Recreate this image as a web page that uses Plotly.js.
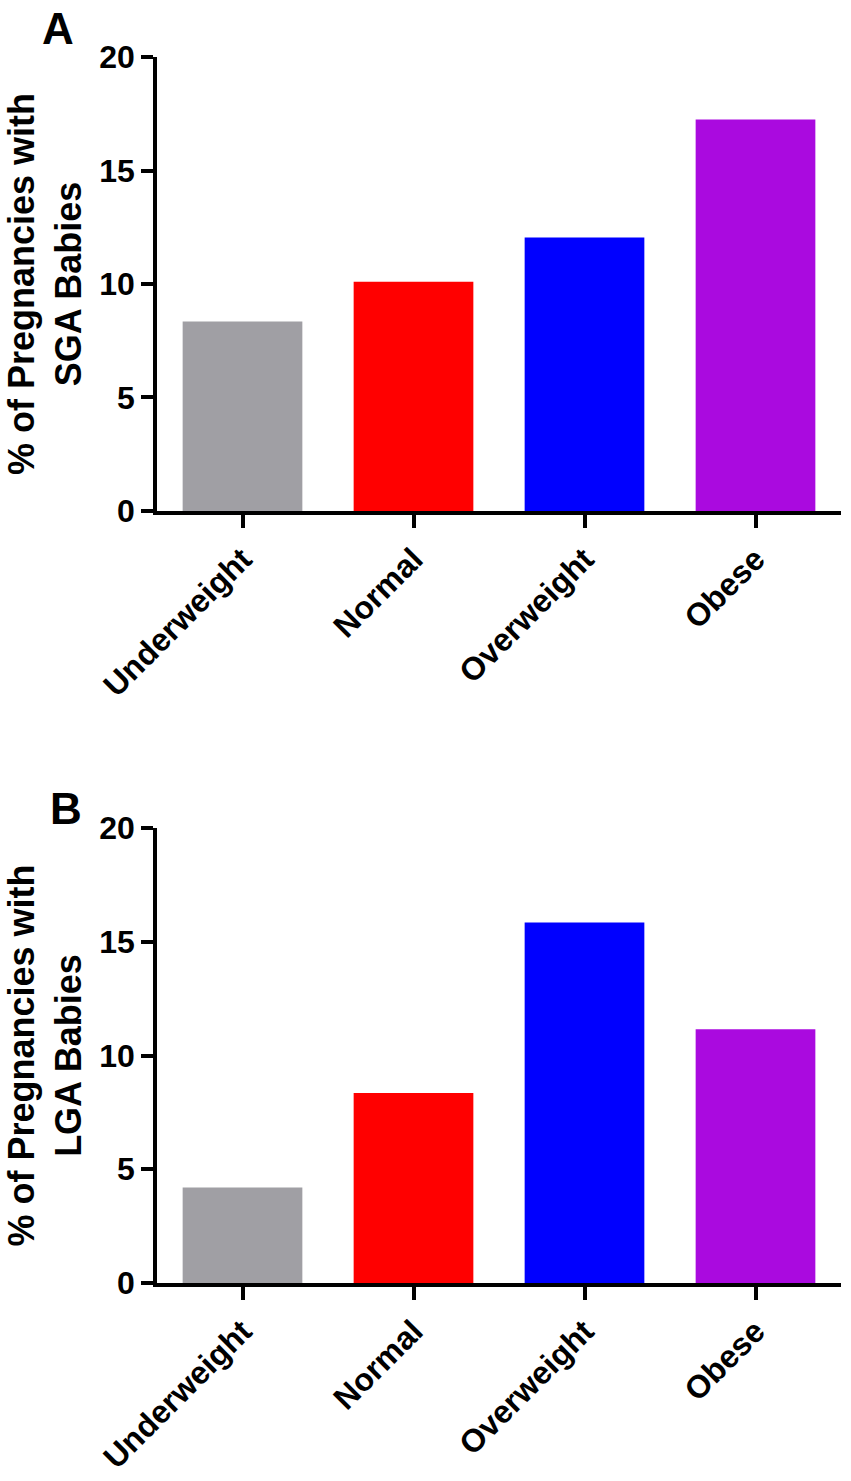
<!DOCTYPE html>
<html>
<head>
<meta charset="utf-8">
<script src="https://cdn.plot.ly/plotly-3.0.1.min.js"></script>
<style>
  html, body { margin: 0; padding: 0; background: #fff; }
  #chart { width: 851px; height: 1481px; }
</style>
</head>
<body>
<div id="chart"></div>
<script>
// categorias (IMC materno)
const categories = ['Underweight', 'Normal', 'Overweight', 'Obese'];
// % de gestações com bebês SGA / LGA
const sgaValues = [8.35, 10.1, 12.05, 17.25];
const lgaValues = [4.2, 8.35, 15.85, 11.15];
const barColors = ['#a09fa4', '#ff0000', '#0000ff', '#aa0adf'];
const yTicks = [0, 5, 10, 15, 20];

const fontFamily = 'Liberation Sans, Arial, sans-serif';

function bars(values, xa, ya) {
	return {
		type: 'bar',
		x: categories,
		y: values,
		xaxis: xa,
		yaxis: ya,
		marker: { color: barColors, line: { width: 0 } },
		width: 0.7,
		hoverinfo: 'x+y',
		showlegend: false
	};
}

function xAxis(anchor) {
	return {
		anchor: anchor,
		domain: [0, 1],
		type: 'category',
		range: [-0.5, 3.5],
		showline: true, linecolor: '#000', linewidth: 3.5,
		ticks: 'outside', ticklen: 13, tickwidth: 3.5, tickcolor: '#000',
		tickangle: -45,
		ticklabelstandoff: 0,
		tickfont: { family: fontFamily, size: 32, color: '#000', weight: 'bold' },
		showgrid: false, zeroline: false, fixedrange: true
	};
}

function yAxis(anchor, domain, title) {
	return {
		anchor: anchor,
		domain: domain,
		range: [0, 20],
		tickvals: yTicks,
		showline: true, linecolor: '#000', linewidth: 3.5,
		ticks: 'outside', ticklen: 12, tickwidth: 3.5, tickcolor: '#000',
		tickfont: { family: fontFamily, size: 32, color: '#000', weight: 'bold' },
		title: { text: title, font: { family: fontFamily, size: 36, color: '#000', weight: 'bold' }, standoff: 8 },
		showgrid: false, zeroline: false, fixedrange: true
	};
}

const data = [bars(sgaValues, 'x', 'y'), bars(lgaValues, 'x2', 'y2')];

const layout = {
	width: 851,
	height: 1481,
	margin: { l: 157, r: 10, t: 57, b: 198 },
	paper_bgcolor: '#fff',
	plot_bgcolor: '#fff',
	xaxis: xAxis('y'),
	yaxis: yAxis('x', [0.6297, 1], '% of Pregnancies with<br>SGA Babies'),
	xaxis2: xAxis('y2'),
	yaxis2: yAxis('x2', [0, 0.3711], '% of Pregnancies with<br>LGA Babies'),
	annotations: [
		{ text: 'A', xref: 'paper', yref: 'paper', x: -0.145, y: 1.0235, xanchor: 'center', yanchor: 'middle',
		  showarrow: false, font: { family: fontFamily, size: 44, color: '#000', weight: 'bold' } },
		{ text: 'B', xref: 'paper', yref: 'paper', x: -0.133, y: 0.3874, xanchor: 'center', yanchor: 'middle',
		  showarrow: false, font: { family: fontFamily, size: 44, color: '#000', weight: 'bold' } }
	]
};

Plotly.newPlot('chart', data, layout, { displayModeBar: false });
</script>
</body>
</html>
